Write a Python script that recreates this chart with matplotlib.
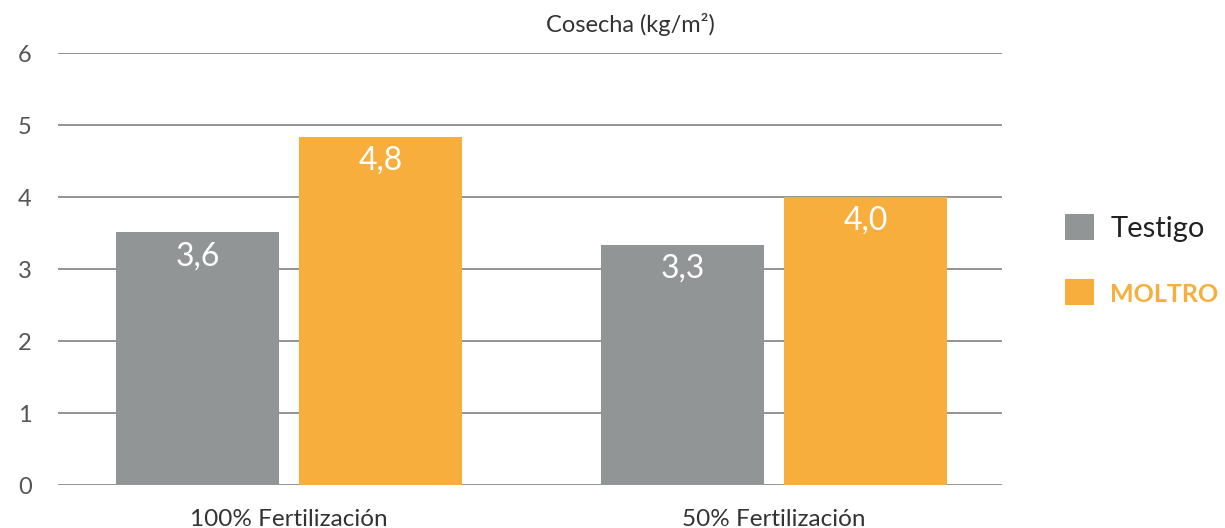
import numpy as np
import matplotlib
matplotlib.use("Agg")
import matplotlib.pyplot as plt

plt.rcParams['font.family'] = ['Lato', 'DejaVu Sans']

# Data
categories = ['100% Fertilización', '50% Fertilización']
series_names = ['Testigo', 'MOLTRO']
testigo = [3.51, 3.33]
moltro = [4.83, 4.0]
testigo_labels = ['3,6', '3,3']
moltro_labels = ['4,8', '4,0']
yticks = [0, 1, 2, 3, 4, 5, 6]

gray = '#929596'
orange = '#F7AE3D'

fig = plt.figure(figsize=(12.25, 5.28), dpi=100)
ax = fig.add_axes([58 / 1225, 43 / 528, 944 / 1225, 432 / 528])

x = np.arange(len(categories))
w = 0.336
off = 0.1887
b1 = ax.bar(x - off, testigo, w, color=gray, zorder=3, label=series_names[0])
b2 = ax.bar(x + off, moltro, w, color=orange, zorder=3, label=series_names[1])

for bars, labs in [(b1, testigo_labels), (b2, moltro_labels)]:
    for rect, lab in zip(bars, labs):
        ax.text(rect.get_x() + rect.get_width() / 2, rect.get_height() - 0.33, lab,
                ha='center', va='center', color='white', fontsize=23, zorder=4)

ax.set_xlim(-0.4763, 1.470)
ax.set_ylim(0, 6)
ax.set_yticks(yticks)
ax.set_yticklabels([str(t) for t in yticks], fontsize=17, color='#555555')
ax.set_xticks(x)
ax.set_xticklabels(categories, fontsize=17.5, color='#333333')
ax.tick_params(axis='both', length=0)
ax.tick_params(axis='y', pad=19)
ax.tick_params(axis='x', pad=17)
ax.yaxis.grid(True, color='#8a8a8a', linewidth=1.3, zorder=0)
for s in ax.spines.values():
    s.set_visible(False)

fig.text(630 / 1225, 1 - 25 / 528, 'Cosecha (kg/m²)', ha='center', va='center',
         fontsize=17, color='#333333')

leg = ax.legend(handles=[b1, b2], loc='center left', bbox_to_anchor=(1065 / 1225, 1 - 260 / 528),
                bbox_transform=fig.transFigure, frameon=False, fontsize=21, borderpad=0,
                borderaxespad=0, handlelength=1.0, handleheight=1.0, handletextpad=0.55,
                labelspacing=1.25)
texts = leg.get_texts()
texts[0].set_color('#222222')
texts[1].set_color(orange)
texts[1].set_fontweight('bold')
texts[1].set_fontsize(18)

fig.savefig('out.png', dpi=100)
